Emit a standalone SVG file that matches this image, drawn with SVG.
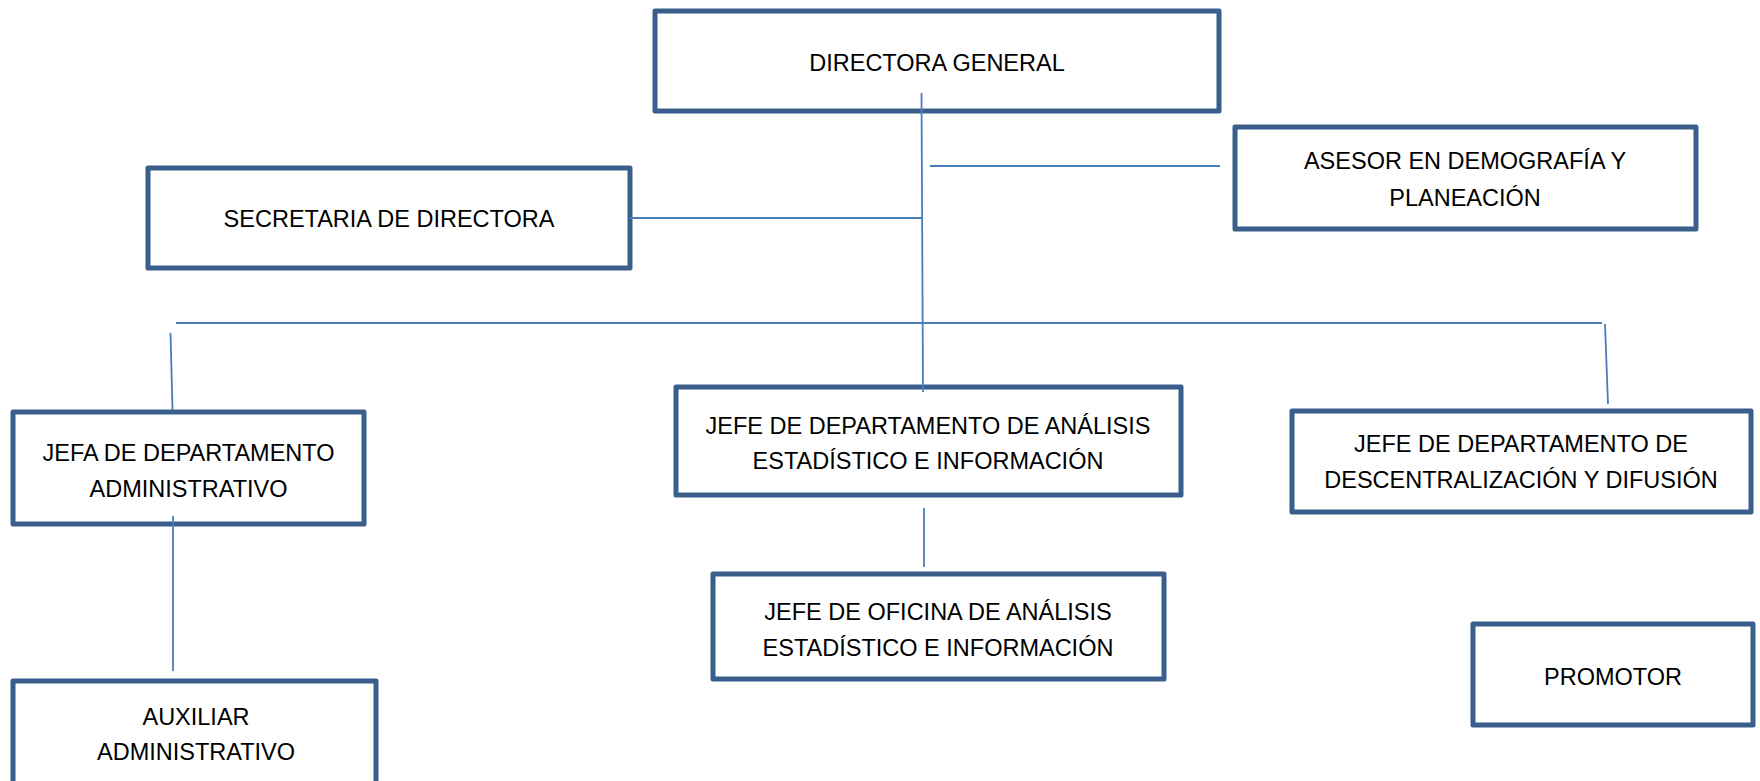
<svg xmlns="http://www.w3.org/2000/svg" width="1760" height="781" viewBox="0 0 1760 781">
<style>
.box{fill:#ffffff;stroke:#3a5f8d;stroke-width:5;stroke-linejoin:round}
.t{font-family:"Liberation Sans",Arial,sans-serif;font-size:23.5px;fill:#000000;text-anchor:middle}
.ln{stroke:#4a7ebb;stroke-width:1.8;fill:none}
</style>
<rect width="1760" height="781" fill="#ffffff"/>
<g id="directora">
<rect class="box" x="655" y="11" width="564" height="100"/>
<text class="t" x="937" y="71">DIRECTORA GENERAL</text>
</g>
<g id="asesor">
<rect class="box" x="1235" y="127" width="461" height="102"/>
<text class="t" x="1465" y="169">ASESOR EN DEMOGRAFÍA Y</text>
<text class="t" x="1465" y="206">PLANEACIÓN</text>
</g>
<g id="secretaria">
<rect class="box" x="148" y="168" width="482" height="100"/>
<text class="t" x="389" y="227">SECRETARIA DE DIRECTORA</text>
</g>
<g id="jefa-admin">
<rect class="box" x="13" y="412" width="351" height="112"/>
<text class="t" x="188.5" y="461">JEFA DE DEPARTAMENTO</text>
<text class="t" x="188.5" y="497">ADMINISTRATIVO</text>
</g>
<g id="jefe-analisis">
<rect class="box" x="676" y="387" width="505" height="108"/>
<text class="t" x="928" y="434">JEFE DE DEPARTAMENTO DE ANÁLISIS</text>
<text class="t" x="928" y="469">ESTADÍSTICO E INFORMACIÓN</text>
</g>
<g id="jefe-descentralizacion">
<rect class="box" x="1292" y="411" width="459" height="101"/>
<text class="t" x="1521" y="452">JEFE DE DEPARTAMENTO DE</text>
<text class="t" x="1521" y="488">DESCENTRALIZACIÓN Y DIFUSIÓN</text>
</g>
<g id="jefe-oficina">
<rect class="box" x="713" y="574" width="451" height="105"/>
<text class="t" x="938" y="620">JEFE DE OFICINA DE ANÁLISIS</text>
<text class="t" x="938" y="656">ESTADÍSTICO E INFORMACIÓN</text>
</g>
<g id="promotor">
<rect class="box" x="1473" y="624" width="280" height="101"/>
<text class="t" x="1613" y="685">PROMOTOR</text>
</g>
<g id="auxiliar">
<rect class="box" x="13" y="681" width="363" height="115"/>
<text class="t" x="196" y="725">AUXILIAR</text>
<text class="t" x="196" y="760">ADMINISTRATIVO</text>
</g>
<g id="connectors">
<line class="ln" x1="921.5" y1="93" x2="923" y2="392"/>
<line class="ln" x1="930" y1="166" x2="1220" y2="166"/>
<line class="ln" x1="630" y1="218" x2="922" y2="218"/>
<line class="ln" x1="176" y1="323" x2="1602" y2="323"/>
<line class="ln" x1="170.5" y1="333" x2="172.5" y2="410"/>
<line class="ln" x1="1605" y1="324" x2="1608" y2="404"/>
<line class="ln" x1="173" y1="516" x2="173" y2="671"/>
<line class="ln" x1="924" y1="508" x2="924" y2="567"/>
</g>
</svg>
